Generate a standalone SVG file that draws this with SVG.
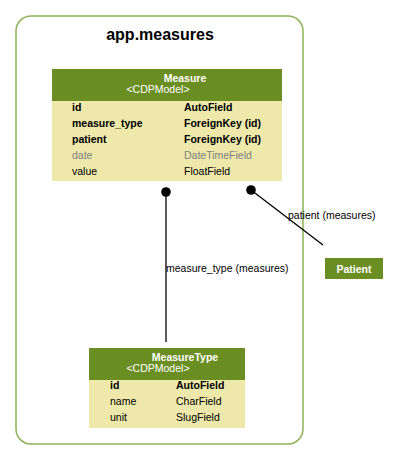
<svg xmlns="http://www.w3.org/2000/svg" width="400" height="460" viewBox="0 0 400 460">
<style>
text{font-family:"Liberation Sans",Arial,sans-serif;font-size:10.5px;fill:#000}
.hdr{fill:#6b8e23}
.body{fill:#eee8aa}
.w{fill:#fff}
.b{font-weight:bold}
.g{fill:#808080}
.ln{stroke:#000;stroke-width:1.3;fill:none}
.dot{fill:#000}
</style>
<rect width="400" height="460" fill="#fff"/>
<g id="app.measures">
<rect x="16" y="16" width="287" height="428" rx="15" ry="15" fill="#fff" stroke="#8db25a" stroke-width="1.5"/>
<text x="160" y="40" text-anchor="middle" class="b" style="font-size:16px">app.measures</text>
</g>
<g id="connectors">
<line class="ln" x1="166" y1="192" x2="166" y2="342"/>
<circle class="dot" cx="166" cy="192" r="4.8"/>
<line class="ln" x1="251" y1="190" x2="323" y2="245"/>
<circle class="dot" cx="251" cy="190" r="4.8"/>
<text x="288" y="219">patient (measures)</text>
<text x="166" y="272">measure_type (measures)</text>
</g>
<g id="Measure">
<rect class="hdr" x="52" y="69" width="230" height="32"/>
<rect class="body" x="52" y="101" width="230" height="80"/>
<text x="185" y="82" text-anchor="middle" class="w b">Measure</text>
<text x="158" y="93" text-anchor="middle" class="w">&lt;CDPModel&gt;</text>
<text x="72" y="111" class="b">id</text><text x="184" y="111" class="b">AutoField</text>
<text x="72" y="127" class="b">measure_type</text><text x="184" y="127" class="b">ForeignKey (id)</text>
<text x="72" y="143" class="b">patient</text><text x="184" y="143" class="b">ForeignKey (id)</text>
<text x="72" y="159" class="g">date</text><text x="184" y="159" class="g">DateTimeField</text>
<text x="72" y="175">value</text><text x="184" y="175">FloatField</text>
</g>
<g id="MeasureType">
<rect class="hdr" x="89" y="348" width="156" height="32"/>
<rect class="body" x="89" y="380" width="156" height="48"/>
<text x="185" y="361" text-anchor="middle" class="w b">MeasureType</text>
<text x="158" y="372" text-anchor="middle" class="w">&lt;CDPModel&gt;</text>
<text x="110" y="389" class="b">id</text><text x="176" y="389" class="b">AutoField</text>
<text x="110" y="405">name</text><text x="176" y="405">CharField</text>
<text x="110" y="421">unit</text><text x="176" y="421">SlugField</text>
</g>
<g id="Patient">
<rect class="hdr" x="325" y="258" width="58" height="21"/>
<text x="354" y="272.5" text-anchor="middle" class="w b">Patient</text>
</g>
</svg>
